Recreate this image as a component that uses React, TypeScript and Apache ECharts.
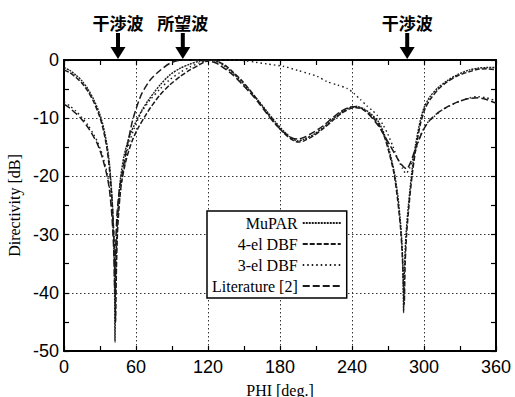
import React, { useEffect, useRef } from "react";
import * as echarts from "echarts";

const seriesNames = ["MuPAR", "4-el DBF", "3-el DBF", "Literature [2]"];

const mupar: number[][] = [
  [0, -1.3], [5, -1.8], [10, -2.6], [15, -3.6], [20, -5], [25, -6.9], [30, -9.4], [33, -11.6],
  [36, -14.8], [38, -18], [40, -23.5], [41, -28], [42, -36], [42.5, -48.5], [43, -38], [44, -30],
  [45, -25.5], [47, -20.5], [50, -16.5], [55, -12.8], [60, -10.6], [65, -8.6], [70, -7], [75, -5.6],
  [80, -4.3], [88, -2.6], [97, -1.4], [105, -0.7], [113, -0.2], [120, 0], [125, -0.1], [130, -0.5],
  [141, -2.3], [148, -3.8], [155, -5.3], [162, -7], [169, -8.8], [176, -10.6], [183, -12.2],
  [190, -13.5], [195, -13.9], [200, -13.6], [208, -12.8], [216, -11.6], [224, -10.2], [231, -9],
  [238, -8.2], [244, -8], [250, -8.4], [256, -9.3], [262, -10.6], [267, -12.8], [271, -15.5],
  [275, -19], [278, -23], [280, -27], [281.5, -31], [282.5, -36], [283, -43.4], [283.7, -36],
  [285, -30], [287, -25], [290, -19], [293, -14.5], [297, -10.3], [300, -8.2], [305, -6.3],
  [312, -4.7], [319, -3.6], [328, -2.5], [338, -1.7], [345, -1.4], [352, -1.3], [360, -1.3],
];

const dbf4: number[][] = [
  [0, -1.7], [5, -2.2], [10, -3], [15, -4], [20, -5.4], [25, -7.3], [30, -9.9], [33, -12.2],
  [36, -15.5], [38, -19], [40, -24], [41.5, -30], [42.5, -37], [43, -45], [43.6, -37], [44.5, -30],
  [46, -25], [48, -21], [52, -17], [57, -13.8], [62, -11.6], [68, -9.5], [72, -8.2], [80, -6],
  [88, -4.3], [97, -2.8], [105, -1.7], [113, -0.8], [119, -0.2], [123, 0], [128, -0.2], [135, -1],
  [141, -2.1], [148, -3.5], [155, -5.2], [162, -7.1], [169, -9], [176, -10.9], [183, -12.5],
  [190, -13.7], [195, -14.1], [200, -13.9], [208, -13], [216, -11.8], [224, -10.4], [231, -9.2],
  [238, -8.4], [244, -8.2], [250, -8.6], [256, -9.6], [262, -11], [267, -13.2], [271, -16],
  [275, -19.5], [278, -24], [280.5, -29], [282, -34], [283.5, -42], [284.3, -35], [285.5, -30],
  [287.5, -25], [290, -20], [293, -15.5], [297, -11], [301, -8.3], [305, -6.8], [312, -5],
  [319, -3.8], [328, -2.7], [338, -2], [345, -1.6], [352, -1.5], [360, -1.7],
];

const dbf3: number[][] = [
  [0, -7.2], [5, -7.9], [10, -8.8], [15, -9.9], [20, -11.2], [25, -12.9], [28, -14.1], [32, -16.3],
  [36, -19.5], [38, -22], [40, -26], [42, -31], [43, -34], [44, -30], [45.5, -25.5], [48, -21],
  [51, -17.5], [55, -13.8], [60, -11], [65, -8.8], [72, -6.8], [80, -5], [88, -3.4], [97, -2.1],
  [105, -1.2], [113, -0.5], [120, -0.1], [128, 0], [140, 0], [150, -0.1], [160, -0.4], [170, -0.7],
  [183, -1.1], [195, -1.8], [205, -2.4], [211, -2.8], [219, -3.7], [228, -4.3], [236, -4.9],
  [242, -5.8], [247, -6.8], [252, -7.8], [257, -8.7], [261, -9.5], [266, -11.2], [270, -12.8],
  [274, -14.8], [278, -16.9], [282, -18.6], [285, -19.5], [288, -18.6], [292, -16.2], [297, -13],
  [302, -11], [308, -9.8], [315, -8.6], [322, -7.8], [330, -7.1], [338, -6.5], [345, -6.3],
  [352, -6.5], [360, -7],
];

const literature: number[][] = [
  [0, -7.6], [5, -8.3], [10, -9.2], [14, -10], [20, -11.6], [25, -13.3], [28, -14.5], [32, -16.8],
  [36, -20], [38, -22.5], [40, -27], [41.5, -33], [42.3, -40], [43, -33], [44, -27], [46, -22.5],
  [48.5, -19.5], [52, -15.5], [57, -10.5], [61, -7.8], [65, -5.7], [72, -3.4], [80, -1.8],
  [88, -0.6], [95, -0.1], [100, 0], [108, 0], [115, -0.1], [120, -0.2], [125, -0.4], [130, -0.9],
  [141, -2.6], [148, -4.1], [155, -5.6], [162, -7.3], [169, -9.2], [176, -11], [183, -12.4],
  [190, -13.4], [195, -13.6], [200, -13.3], [208, -12.4], [216, -11.3], [224, -9.9], [231, -8.8],
  [238, -8.1], [244, -8], [250, -8.6], [256, -9.8], [262, -11.3], [267, -13], [272, -14.8],
  [277, -16.6], [281, -17.9], [285.5, -18.7], [289, -17.5], [294, -14.6], [299.5, -12],
  [305, -10.3], [312, -9], [319, -8.1], [328, -7.2], [338, -6.6], [345, -6.5], [352, -6.8],
  [360, -7.4],
];

const seriesData = [mupar, dbf4, dbf3, literature];

const annotationLabels = ["干渉波", "所望波", "干渉波"];
const annotationPhi = [45, 99, 286];

const xTicks = { min: 0, max: 360, interval: 60 };
const yTicks = { min: -50, max: 0, interval: 10 };

export default function App() {
  const ref = useRef<HTMLDivElement>(null);

  useEffect(() => {
    const chart = echarts.init(ref.current!, null, { renderer: "svg" });
    const dashes: any[] = [[2, 1], [5, 2], [1.5, 3], [7, 3]];
    const widths = [1.4, 1.5, 1.4, 1.5];
    const sans = "Liberation Sans";
    const serif = "Liberation Serif";

    const axisCommon = {
      axisLine: { show: true, onZero: false, lineStyle: { color: "#000", width: 2 } },
      axisTick: { show: true, inside: true, length: 5, lineStyle: { color: "#000", width: 1.2 } },
      minorTick: { show: true, splitNumber: 2, length: 5, lineStyle: { color: "#000", width: 1.2 } },
    };

    chart.setOption({
      animation: false,
      backgroundColor: "#fff",
      grid: {
        left: 64,
        right: 19,
        top: 60,
        bottom: 46,
        containLabel: false,
        outerBoundsMode: "none",
      },
      legend: {
        orient: "vertical",
        left: 207,
        top: 211,
        align: "right",
        itemWidth: 38,
        itemHeight: 14,
        itemGap: 5,
        padding: [4, 5, 4, 5],
        borderColor: "#000",
        borderWidth: 1.5,
        backgroundColor: "#fff",
        itemStyle: { opacity: 0 },
        textStyle: { fontFamily: serif, fontSize: 16, color: "#000" },
        data: seriesNames,
      },
      xAxis: [
        {
          type: "value",
          ...xTicks,
          ...axisCommon,
          name: "PHI [deg.]",
          nameLocation: "middle",
          nameGap: 31,
          nameTextStyle: { fontFamily: serif, fontSize: 16, color: "#000" },
          axisLabel: { fontFamily: sans, fontSize: 18, color: "#000", margin: 7 },
          splitLine: { show: true, lineStyle: { color: "#333", width: 1, type: [1.5, 2.5] } },
        },
        {
          type: "value",
          position: "top",
          ...xTicks,
          ...axisCommon,
          axisLabel: { show: false },
          splitLine: { show: false },
        },
      ],
      yAxis: [
        {
          type: "value",
          ...yTicks,
          ...axisCommon,
          name: "Directivity [dB]",
          nameLocation: "middle",
          nameGap: 29,
          nameTextStyle: { fontFamily: serif, fontSize: 16, color: "#000" },
          axisLabel: { fontFamily: sans, fontSize: 18, color: "#000", margin: 5 },
          splitLine: { show: true, lineStyle: { color: "#333", width: 1, type: [1.5, 2.5] } },
        },
        {
          type: "value",
          position: "right",
          ...yTicks,
          ...axisCommon,
          axisLabel: { show: false },
          splitLine: { show: false },
        },
      ],
      series: seriesNames.map((name, i) => ({
        name,
        type: "line",
        data: seriesData[i],
        symbol: "none",
        smooth: 0.25,
        lineStyle: { color: "#1a1a1a", width: widths[i], type: dashes[i] },
        itemStyle: { color: "#1a1a1a" },
      })),
    });

    const graphics: any[] = [];
    annotationPhi.forEach((p, i) => {
      const x = chart.convertToPixel({ xAxisIndex: 0 }, p) as number;
      graphics.push({
        type: "text",
        x,
        y: 22,
        style: {
          text: annotationLabels[i],
          fontFamily: "Noto Sans CJK JP",
          fontWeight: "bold",
          fontSize: 17,
          fill: "#000",
          align: "center",
          verticalAlign: "middle",
        },
      });
      graphics.push({
        type: "rect",
        shape: { x: x - 2, y: 33, width: 4, height: 15 },
        style: { fill: "#000" },
      });
      graphics.push({
        type: "polygon",
        shape: { points: [[x - 7.5, 47], [x + 7.5, 47], [x, 59]] },
        style: { fill: "#000" },
      });
    });
    chart.setOption({ graphic: graphics });

    return () => chart.dispose();
  }, []);

  return (
    <div
      ref={ref}
      style={{ position: "fixed", left: 0, top: 0, width: 515, height: 397, background: "#fff" }}
    />
  );
}
